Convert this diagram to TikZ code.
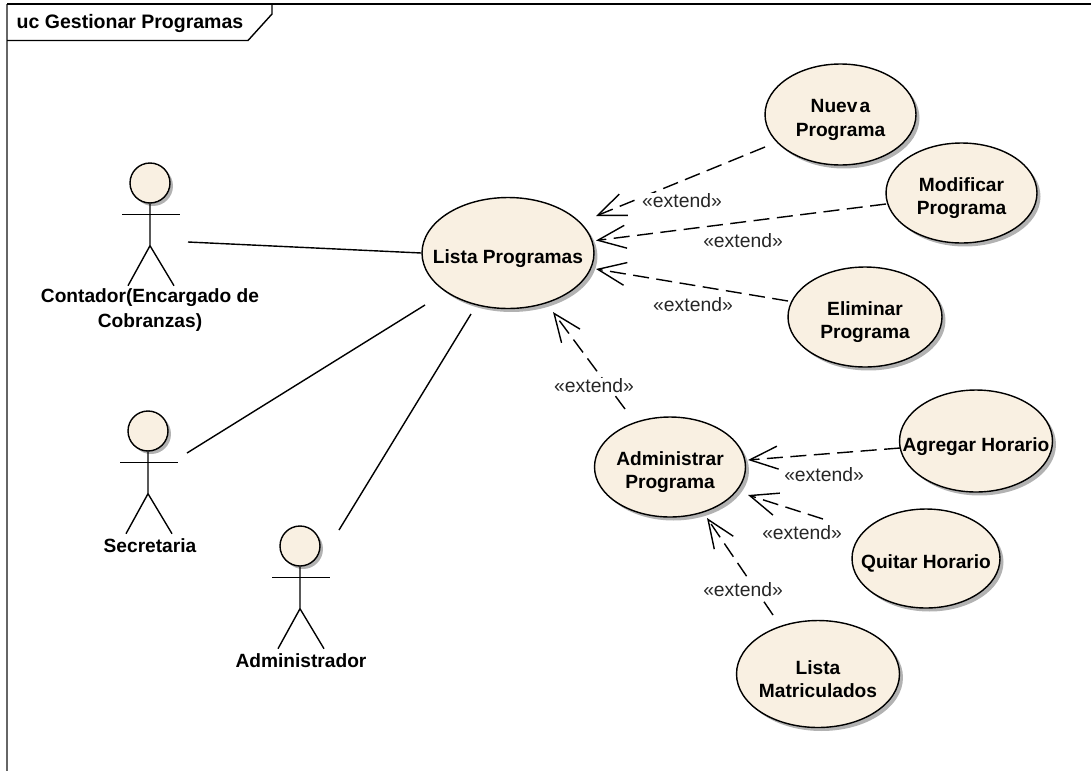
\documentclass[tikz,border=0pt]{standalone}
\usepackage{fontspec}
\setmainfont{Liberation Sans}
\usetikzlibrary{arrows.meta,shapes.geometric,shadows}
\definecolor{ucfill}{HTML}{F9F0E2}
\tikzset{
  ucase/.style={ellipse,draw,thick,fill=ucfill,font=\fontsize{10.9}{13.6}\selectfont\bfseries,align=center,inner ysep=0pt,inner xsep=-1cm,
    drop shadow={shadow xshift=0.07cm,shadow yshift=-0.07cm,fill=black!30,opacity=1}},
  uchead/.style={circle,draw,thick,fill=ucfill,minimum size=0.8cm,inner sep=0pt,
    drop shadow={shadow xshift=0.06cm,shadow yshift=-0.06cm,fill=black!30,opacity=1}},
  ucname/.style={font=\fontsize{10.9}{14.4}\selectfont\bfseries,align=center,inner sep=0pt},
  extlabel/.style={font=\fontsize{11}{12}\selectfont,inner sep=0.5pt,fill=white,text=black!85},
  extend/.style={thick,dash pattern=on 0.32cm off 0.15cm,-{Straight Barb[length=0.56cm,width=0.46cm,line width=0.8pt]}},
  assoc/.style={thick}
}
% pushes the text of a use case a little below the middle
\newcommand{\ucdrop}{\rule{0pt}{13.7pt}}
% stick figure hanging under a head node
\newcommand{\actorbody}[1]{
  \draw [thick] (#1.south) -- ++(0,-42) -- ++(-22,-40);
  \draw [thick] (#1.south) ++(0,-42) -- ++(24,-40);
  \draw [thick] (#1.south) ++(-28,-11) -- ++(58,0);
}
\begin{document}
\begin{tikzpicture}[x=0.02cm,y=0.02cm]
\useasboundingbox (0,0) rectangle (1091,-771);
% frame
\draw [black!60,thick] (7,-4) -- (7,-771);
\draw [thick] (7,-4) -- (1091,-4);
\draw [thick] (7,-40.5) -- (248,-40.5) -- (272,-14) -- (272,-4);
\node (title) [ucname,font=\fontsize{11.1}{14.4}\selectfont\bfseries] at (130,-23) {uc Gestionar Programas};
% actors
\node (contador) [uchead] at (150,-183) {};
\actorbody{contador}
\node (contadorname) [ucname] at (150,-310) {Contador(Encargado de\\Cobranzas)};
\node (secretaria) [uchead] at (148,-431) {};
\actorbody{secretaria}
\node (secretarianame) [ucname] at (150,-546) {Secretaria};
\node (administrador) [uchead] at (300,-546) {};
\actorbody{administrador}
\node (administradorname) [ucname] at (301,-661) {Administrador};
% use cases
\node (lista) [ucase,minimum width=3.44cm,minimum height=2.22cm] at (508,-253) {\ucdrop Lista Programas};
\node (nueva) [ucase,minimum width=3.02cm,minimum height=2.02cm] at (840.5,-114.5) {\ucdrop Nuev\kern1.2pt a\\Programa};
\node (modificar) [ucase,minimum width=3.02cm,minimum height=2cm] at (961.5,-193) {\ucdrop Modificar\\Programa};
\node (eliminar) [ucase,minimum width=3.08cm,minimum height=2cm] at (865,-317) {\ucdrop Eliminar\\Programa};
\node (administrar) [ucase,minimum width=3.02cm,minimum height=2cm] at (670,-467) {\ucdrop Administrar\\Programa};
\node (agregar) [ucase,minimum width=3.06cm,minimum height=2.04cm] at (976,-441) {\ucdrop Agregar Horario};
\node (quitar) [ucase,minimum width=2.96cm,minimum height=1.98cm] at (926,-558.5) {\ucdrop Quitar Horario};
\node (matriculados) [ucase,minimum width=3.26cm,minimum height=2.14cm] at (818,-674) {\ucdrop Lista\\Matriculados};
% associations
\draw [assoc] ([shift={(38,-59)}]contador.center) -- (lista.west);
\draw [assoc] ([shift={(39,-22)}]secretaria.center) -- ([shift={(-83,-52)}]lista.center);
\draw [assoc] ([shift={(39,16)}]administrador.center) -- ([shift={(-37,-61)}]lista.center);
% extends
\draw [extend] ([shift={(-75.5,-32.5)}]nueva.center) -- ([shift={(88,37)}]lista.center);
\draw [extend] ([shift={(-75.5,-11)}]modificar.center) -- ([shift={(88,12.5)}]lista.center);
\draw [extend] ([shift={(-77,16)}]eliminar.center) -- ([shift={(88,-16)}]lista.center);
\draw [extend] ([shift={(-45,58)}]administrar.center) -- ([shift={(45,-59)}]lista.center);
\draw [extend] ([shift={(-76,-7)}]agregar.center) -- ([shift={(78,7)}]administrar.center);
\draw [extend] ([shift={(-103,39.5)}]quitar.center) -- ([shift={(78,-28)}]administrar.center);
\draw [extend] ([shift={(-45,59)}]matriculados.center) -- ([shift={(37,-51)}]administrar.center);
% labels
\node (ext1) [extlabel] at (682,-201) {«extend»};
\node (ext2) [extlabel] at (743,-241) {«extend»};
\node (ext3) [extlabel] at (693,-305) {«extend»};
\node (ext4) [extlabel] at (594,-386) {«extend»};
\node (ext5) [extlabel] at (824,-475) {«extend»};
\node (ext6) [extlabel] at (802,-533) {«extend»};
\node (ext7) [extlabel] at (743,-590) {«extend»};
\end{tikzpicture}
\end{document}
